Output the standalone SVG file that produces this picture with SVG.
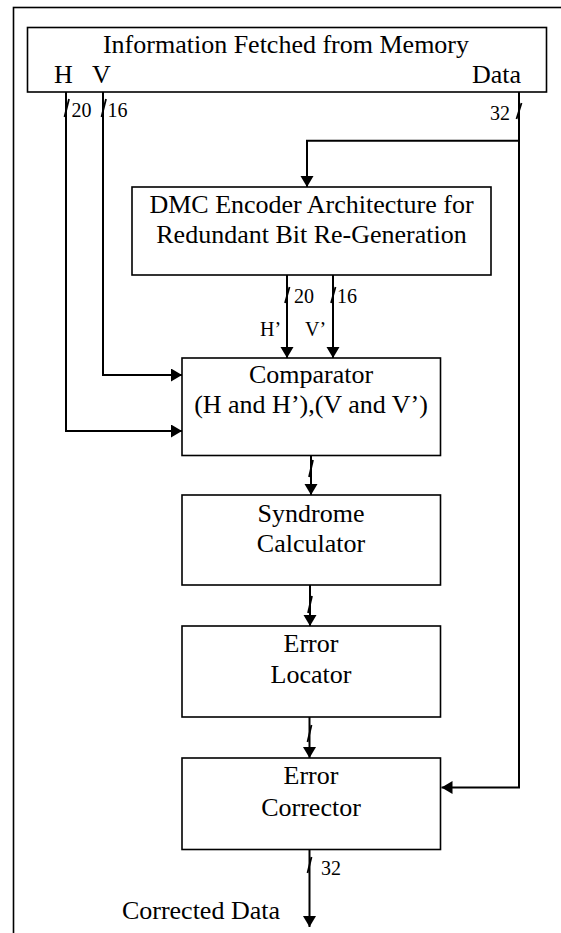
<svg xmlns="http://www.w3.org/2000/svg" width="561" height="933" viewBox="0 0 561 933">
<style>
.box{fill:#fff;stroke:#000;stroke-width:1.6}
.t{font-family:'Liberation Serif','DejaVu Serif',serif;font-size:26px;fill:#000}
.c{text-anchor:middle}
.s{font-family:'Liberation Serif','DejaVu Serif',serif;font-size:20px;fill:#000}
.w{fill:none;stroke:#000;stroke-width:2}
.sl{fill:none;stroke:#000;stroke-width:1.8}
</style>
<defs>
<marker id="ah" markerUnits="userSpaceOnUse" markerWidth="12" markerHeight="14" refX="11" refY="6.5" orient="auto">
<path d="M0,0 L11,6.5 L0,13 z" fill="#000"/>
</marker>
</defs>
<rect width="561" height="933" fill="#fff"/>
<rect x="13.5" y="7.5" width="620" height="1000" fill="none" stroke="#000" stroke-width="1.6"/>

<g id="memory">
<rect class="box" x="27.5" y="27.5" width="519" height="64.5"/>
<text class="t c" x="286" y="53">Information Fetched from Memory</text>
<text class="t" x="54" y="83">H</text>
<text class="t" x="92" y="83">V</text>
<text class="t" x="521" y="83" text-anchor="end">Data</text>
</g>

<g id="dmc">
<rect class="box" x="132" y="187" width="359" height="88"/>
<text class="t c" x="311.5" y="212.7">DMC Encoder Architecture for</text>
<text class="t c" x="311.5" y="243">Redundant Bit Re-Generation</text>
</g>

<g id="comparator">
<rect class="box" x="182" y="358" width="258.5" height="97.5"/>
<text class="t c" x="311" y="383">Comparator</text>
<text class="t c" x="311" y="413">(H and H’),(V and V’)</text>
</g>

<g id="syndrome">
<rect class="box" x="182" y="495" width="258.5" height="90"/>
<text class="t c" x="311" y="521.7">Syndrome</text>
<text class="t c" x="311" y="551.7">Calculator</text>
</g>

<g id="locator">
<rect class="box" x="182" y="626" width="258.5" height="91"/>
<text class="t c" x="311" y="652">Error</text>
<text class="t c" x="311" y="683">Locator</text>
</g>

<g id="corrector">
<rect class="box" x="182" y="758" width="258.5" height="91.5"/>
<text class="t c" x="311" y="784">Error</text>
<text class="t c" x="311" y="816">Corrector</text>
</g>

<g id="output">
<text class="t" x="280" y="919" text-anchor="end">Corrected Data</text>
</g>

<g id="connectors">
<path class="w" d="M519,92 V787.5 H441.5" marker-end="url(#ah)"/>
<path class="w" d="M519,140.7 H307 V187" marker-end="url(#ah)"/>
<path class="w" d="M103,92 V375 H182" marker-end="url(#ah)"/>
<path class="w" d="M66,92 V431 H182" marker-end="url(#ah)"/>
<path class="w" d="M287,275 V358" marker-end="url(#ah)"/>
<path class="w" d="M333,275 V358" marker-end="url(#ah)"/>
<path class="w" d="M311,455.5 V495" marker-end="url(#ah)"/>
<path class="w" d="M310,585 V626" marker-end="url(#ah)"/>
<path class="w" d="M309.5,717 V758" marker-end="url(#ah)"/>
<path class="w" d="M309.5,849.5 V927" marker-end="url(#ah)"/>

<path class="sl" d="M64.5,117 L69,99"/>
<path class="sl" d="M101.5,117 L106,99"/>
<path class="sl" d="M516.5,119 L521.5,103"/>
<path class="sl" d="M285,303 L289.5,287"/>
<path class="sl" d="M331,303 L335.5,287"/>
<path class="sl" d="M309,477 L313,460"/>
<path class="sl" d="M308,613 L312,596"/>
<path class="sl" d="M307.5,742 L311.5,725"/>
<path class="sl" d="M307.5,873 L311.5,857"/>

<text class="s" x="71.5" y="117">20</text>
<text class="s" x="107.5" y="117">16</text>
<text class="s" x="510" y="119.5" text-anchor="end">32</text>
<text class="s" x="294" y="303">20</text>
<text class="s" x="337" y="303">16</text>
<text class="s" x="260" y="336">H’</text>
<text class="s" x="305" y="336">V’</text>
<text class="s" x="321" y="875">32</text>
</g>
</svg>
